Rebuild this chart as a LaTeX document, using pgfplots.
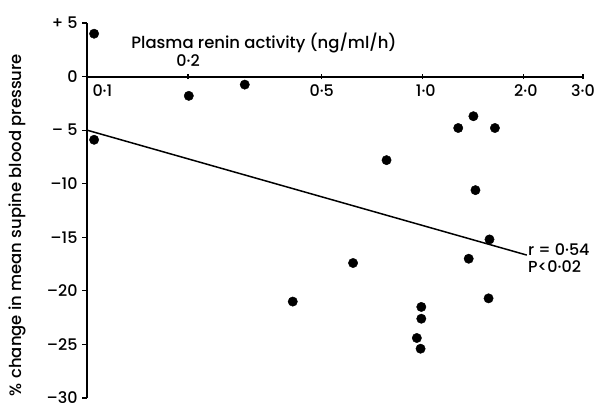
\documentclass[border=0pt]{standalone}
\usepackage{pgfplots}
\pgfplotsset{compat=1.18}
\usepackage{fontspec}
\setmainfont{Poppins}[UprightFont=* Medium]
\begin{document}
\begin{tikzpicture}
\useasboundingbox (-87bp,-5bp) rectangle (507bp,398bp);
\begin{axis}[
  at={(0,0)}, anchor=south west,
  scale only axis, width=496bp, height=375bp,
  xmode=log, xmin=0.1, xmax=3, ymin=-30, ymax=5,
  axis x line=middle, axis y line=left,
  axis line style={-, line width=1.9bp},
  xtick={0.1,0.2,0.5,1,2,3}, xticklabels=\empty,
  xminorticks=false,
  ytick={-30,-25,-20,-15,-10,-5,0,5},
  yticklabels={\textendash30,\textendash25,\textendash20,\textendash15,\textendash10,\textendash\ 5,0,+\ 5},
  hide obscured x ticks=false, hide obscured y ticks=false,
  ytick align=outside, xtick align=center,
  major tick length=5bp,
  tick style={line width=1.2bp, black},
  clip=false,
  tick label style={font=\fontsize{16}{18}\selectfont},
  yticklabel style={xshift=-1bp},
]
\addplot[line width=1.5bp, no marks, black] coordinates {(0.1,-5.0) (2.04,-16.66)};
\addplot[only marks, mark=*, mark size=4.7bp, black] coordinates {
(0.105,4.0) (0.105,-5.9) (0.201,-1.8) (0.295,-0.75)
(0.41,-21.0) (0.62,-17.4) (0.78,-7.8) (0.96,-24.4)
(0.985,-25.4) (0.99,-21.5) (0.99,-22.6) (1.275,-4.8)
(1.37,-17.0) (1.415,-3.7) (1.435,-10.6) (1.57,-20.7)
(1.58,-15.2) (1.64,-4.8)
};
\begin{scope}[every node/.style={font=\fontsize{16}{18}\selectfont}]
\node at (axis cs:0.1,0) [anchor=west, xshift=2bp, yshift=-14bp] {0·1};
\node at (axis cs:0.2,0) [yshift=16bp] {0·2};
\node at (axis cs:0.5,0) [yshift=-14bp] {0·5};
\node at (axis cs:1,0) [xshift=3bp, yshift=-14bp] {1·0};
\node at (axis cs:2,0) [xshift=2bp, yshift=-14bp] {2·0};
\node at (axis cs:3,0) [yshift=-14bp] {3·0};
\end{scope}
\end{axis}
\node[font=\fontsize{16.5}{18}\selectfont] at (177bp,355.5bp) {Plasma renin activity (ng/ml/h)};
\node[rotate=90, font=\fontsize{16.5}{18}\selectfont] at (-70bp,173bp) {\% change in mean supine blood pressure};
\node[anchor=west, align=left, font=\fontsize{16}{17}\selectfont, inner sep=0pt] at (441bp,139.5bp) {r = 0·54\\P<0·02};
\end{tikzpicture}
\end{document}
